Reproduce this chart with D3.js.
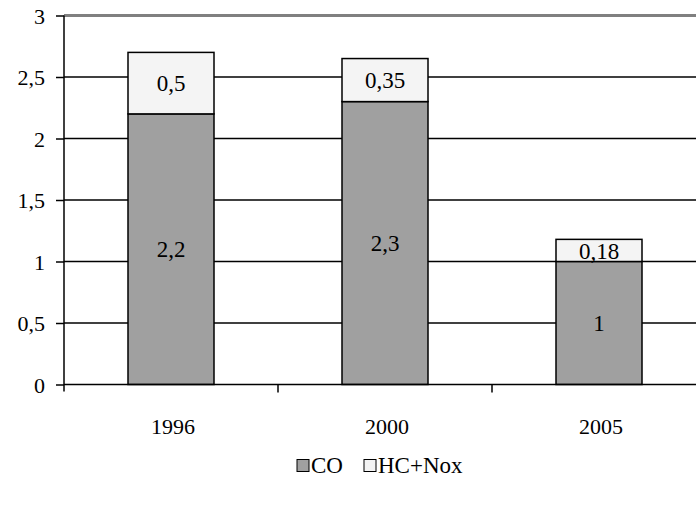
<!DOCTYPE html>
<html>
<head>
<meta charset="utf-8">
<script src="https://cdn.jsdelivr.net/npm/d3@7"></script>
<style>
  html, body { margin: 0; padding: 0; background: #fff; }
  svg { display: block; }
  text { font-family: "Liberation Serif", "Times New Roman", serif; fill: #000; }
</style>
</head>
<body>
<script>
// Emission limits by year, stacked: CO at the bottom, HC+NOx on top
const years = ["1996", "2000", "2005"];
const coValues = [2.2, 2.3, 1];
const hcNoxValues = [0.5, 0.35, 0.18];
const coLabels = ["2,2", "2,3", "1"];
const hcNoxLabels = ["0,5", "0,35", "0,18"];
const yTicks = [0, 0.5, 1, 1.5, 2, 2.5, 3];
const seriesNames = ["CO", "HC+Nox"];
const seriesColors = ["#a0a0a0", "#f4f4f4"];

const width = 696, height = 508;
const svg = d3.select("body").append("svg")
  .attr("width", width).attr("height", height);

const x = d3.scaleBand().domain(years).range([64, 706]).paddingInner(0).paddingOuter(0);
const y = d3.scaleLinear().domain([0, 3]).range([384.5, 15.5]);
const barW = 86;

const fmt = v => String(v).replace(".", ",");

// horizontal gridlines
svg.append("g").selectAll("line")
  .data(yTicks.filter(t => t > 0))
  .join("line")
  .attr("x1", 64).attr("x2", width)
  .attr("y1", d => y(d)).attr("y2", d => y(d))
  .attr("stroke", d => d === 3 ? "#808080" : "#000")
  .attr("stroke-width", d => d === 3 ? 3 : 1.5);

// stacked bars
const rows = years.map((yr, i) => ({ year: yr, CO: coValues[i], "HC+Nox": hcNoxValues[i] }));
const stacked = d3.stack().keys(seriesNames)(rows);

const gBars = svg.append("g");
stacked.forEach((layer, si) => {
  gBars.selectAll(null)
    .data(layer)
    .join("rect")
    .attr("x", d => x(d.data.year) + (x.bandwidth() - barW) / 2)
    .attr("width", barW)
    .attr("y", d => y(d[1]))
    .attr("height", d => y(d[0]) - y(d[1]))
    .attr("fill", seriesColors[si])
    .attr("stroke", "#000")
    .attr("stroke-width", 1.5);
});

// value labels centred in each segment
const labelSets = [coLabels, hcNoxLabels];
stacked.forEach((layer, si) => {
  svg.append("g").selectAll("text")
    .data(layer)
    .join("text")
    .attr("x", d => x(d.data.year) + x.bandwidth() / 2)
    .attr("y", d => (y(d[0]) + y(d[1])) / 2)
    .attr("dy", "0.36em")
    .attr("text-anchor", "middle")
    .attr("font-size", 23)
    .text((d, i) => labelSets[si][i]);
});

// y axis
const yAxis = d3.axisLeft(y).tickValues(yTicks).tickFormat(fmt).tickSize(8).tickPadding(11);
const gy = svg.append("g").attr("transform", "translate(64,0)").call(yAxis);
gy.select(".domain").attr("stroke", "#000").attr("stroke-width", 1.5).attr("d", `M0,${y(3)}V${y(0) + 7}`);
gy.selectAll(".tick line").attr("stroke", "#000").attr("stroke-width", 1.5);
gy.selectAll(".tick text").attr("font-size", 22).attr("dy", "0.36em");

// x axis baseline with category boundary ticks
const gx = svg.append("g");
gx.append("line").attr("x1", 64).attr("x2", width)
  .attr("y1", y(0)).attr("y2", y(0))
  .attr("stroke", "#000").attr("stroke-width", 1.5);
gx.selectAll(".bound")
  .data(years.slice(1))
  .join("line")
  .attr("x1", d => x(d)).attr("x2", d => x(d))
  .attr("y1", y(0)).attr("y2", y(0) + 8)
  .attr("stroke", "#000").attr("stroke-width", 1.5);
gx.selectAll("text")
  .data(years)
  .join("text")
  .attr("x", d => x(d) + x.bandwidth() / 2 + 2)
  .attr("y", 434)
  .attr("text-anchor", "middle")
  .attr("font-size", 22)
  .text(d => d);

// legend
const legend = svg.append("g");
const legendItems = [
  { name: seriesNames[0], color: seriesColors[0], x: 297 },
  { name: seriesNames[1], color: seriesColors[1], x: 364 }
];
legendItems.forEach(it => {
  legend.append("rect")
    .attr("x", it.x).attr("y", 459.5).attr("width", 12).attr("height", 12)
    .attr("fill", it.color).attr("stroke", "#000").attr("stroke-width", 1);
  legend.append("text")
    .attr("x", it.x + 14).attr("y", 473)
    .attr("font-size", 23)
    .text(it.name);
});
</script>
</body>
</html>
